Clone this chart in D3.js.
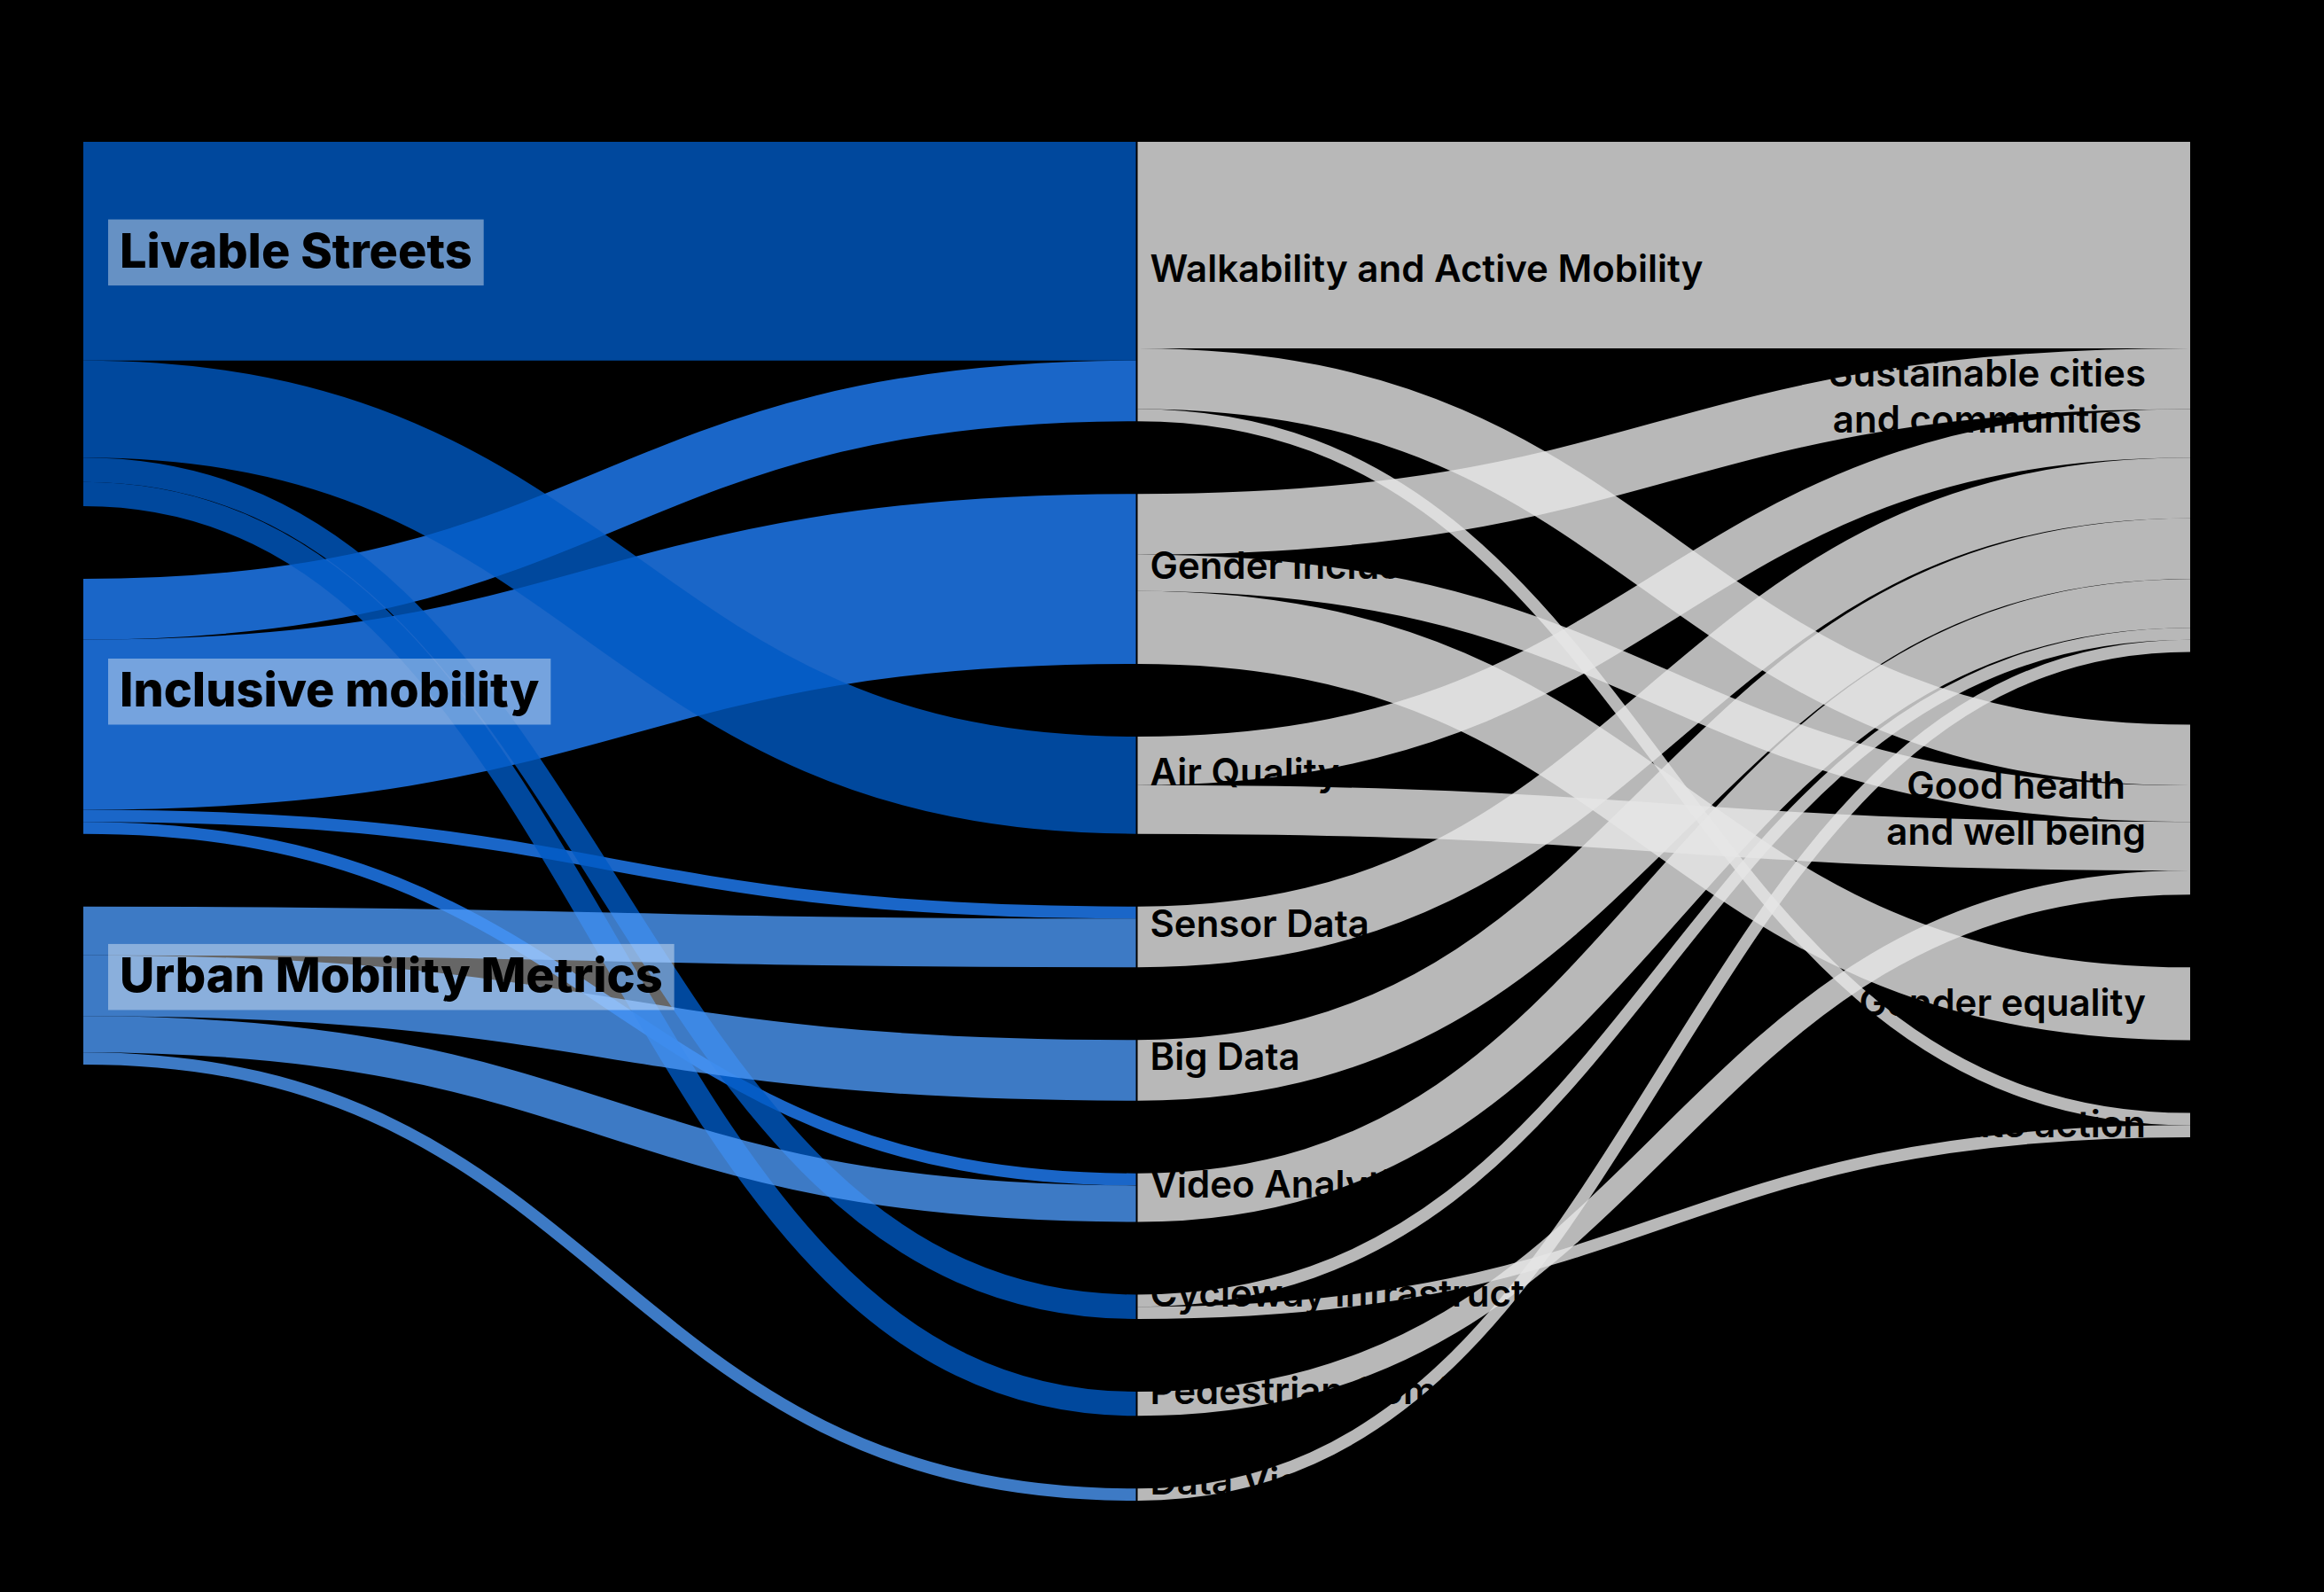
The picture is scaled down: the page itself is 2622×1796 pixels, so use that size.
<!DOCTYPE html>
<html>
<head>
<meta charset="utf-8">
<script src="https://cdn.jsdelivr.net/npm/d3@7"></script>
<style>
  html, body { margin: 0; padding: 0; background: #000; }
  svg { display: block; }
  text { font-family: Inter, "Noto Sans", sans-serif; fill: #000; }
</style>
</head>
<body>
<div id="chart"></div>
<script>
// three columns: themes -> topics -> goals
const themes = ["Livable Streets", "Inclusive mobility", "Urban Mobility Metrics"];
const topics = [
  "Walkability and Active Mobility", "Gender Inclusion", "Air Quality", "Sensor Data",
  "Big Data", "Video Analytics", "Cycleway Infrastructure", "Pedestrian Comfort", "Data Visualization"
];
const goals = ["Sustainable cities\nand communities", "Good health\nand well being", "Gender equality", "Climate action"];

// theme -> topic (listed in drawing order)
const themeTopicLinks = [
  ["Inclusive mobility", "Walkability and Active Mobility", 5],
  ["Inclusive mobility", "Gender Inclusion", 14],
  ["Inclusive mobility", "Sensor Data", 1],
  ["Inclusive mobility", "Video Analytics", 1],
  ["Livable Streets", "Walkability and Active Mobility", 18],
  ["Livable Streets", "Air Quality", 8],
  ["Livable Streets", "Cycleway Infrastructure", 2],
  ["Livable Streets", "Pedestrian Comfort", 2],
  ["Urban Mobility Metrics", "Sensor Data", 4],
  ["Urban Mobility Metrics", "Big Data", 5],
  ["Urban Mobility Metrics", "Video Analytics", 3],
  ["Urban Mobility Metrics", "Data Visualization", 1]
];

// topic -> goal
const topicGoalLinks = [
  ["Walkability and Active Mobility", "Sustainable cities\nand communities", 17],
  ["Walkability and Active Mobility", "Good health\nand well being", 5],
  ["Walkability and Active Mobility", "Climate action", 1],
  ["Gender Inclusion", "Sustainable cities\nand communities", 5],
  ["Gender Inclusion", "Good health\nand well being", 3],
  ["Gender Inclusion", "Gender equality", 6],
  ["Air Quality", "Sustainable cities\nand communities", 4],
  ["Air Quality", "Good health\nand well being", 4],
  ["Sensor Data", "Sustainable cities\nand communities", 5],
  ["Big Data", "Sustainable cities\nand communities", 5],
  ["Video Analytics", "Sustainable cities\nand communities", 4],
  ["Cycleway Infrastructure", "Sustainable cities\nand communities", 1],
  ["Cycleway Infrastructure", "Climate action", 1],
  ["Pedestrian Comfort", "Good health\nand well being", 2],
  ["Data Visualization", "Sustainable cities\nand communities", 1]
];

const themeColors = ["#005ac4", "#2080fa", "#4c98f6"];
const goalLinkColor = "#e6e6e6";

const width = 2622, height = 1796;
const margin = {top: 160, right: 150, bottom: 103, left: 93};
const nodePadding = 82, nodeWidth = 2;

// ---- layout ----
const columns = [themes, topics, goals];
const nodeByName = new Map();
columns.forEach((names, c) => names.forEach(name => {
  nodeByName.set(name, {name, column: c, sourceLinks: [], targetLinks: []});
}));
const nodes = Array.from(nodeByName.values());

const links = themeTopicLinks.concat(topicGoalLinks).map(([s, t, v]) => {
  const l = {source: nodeByName.get(s), target: nodeByName.get(t), value: v};
  l.source.sourceLinks.push(l);
  l.target.targetLinks.push(l);
  return l;
});
nodes.forEach(n => {
  n.value = Math.max(d3.sum(n.sourceLinks, l => l.value), d3.sum(n.targetLinks, l => l.value));
});

const x = d3.scalePoint()
  .domain(d3.range(columns.length))
  .range([margin.left, width - margin.right]);

// the tallest column sets the value -> pixel scale
const innerHeight = height - margin.top - margin.bottom;
const fit = columns.map(names => ({
  total: d3.sum(names, n => nodeByName.get(n).value),
  space: innerHeight - (names.length - 1) * nodePadding
}));
const tightest = fit.reduce((a, b) => (b.space / b.total < a.space / a.total ? b : a));
const h = d3.scaleLinear().domain([0, tightest.total]).range([0, tightest.space]);

columns.forEach((names, c) => {
  let y = margin.top;
  names.forEach(name => {
    const n = nodeByName.get(name);
    n.x0 = x(c) - nodeWidth / 2;
    n.x1 = x(c) + nodeWidth / 2;
    n.y0 = y;
    n.y1 = y + h(n.value);
    y = n.y1 + nodePadding;
  });
});

nodes.forEach(n => {
  n.sourceLinks.sort((a, b) => a.target.y0 - b.target.y0);
  n.targetLinks.sort((a, b) => a.source.y0 - b.source.y0);
  let y = n.y0;
  n.sourceLinks.forEach(l => { l.width = h(l.value); l.y0 = y + l.width / 2; y += l.width; });
  y = n.y0;
  n.targetLinks.forEach(l => { l.y1 = y + h(l.value) / 2; y += h(l.value); });
});

// ---- drawing ----
const svg = d3.select("#chart").append("svg")
  .attr("width", width)
  .attr("height", height)
  .style("background", "#000");

const color = d3.scaleOrdinal().domain(themes).range(themeColors);
const linkPath = d3.linkHorizontal();

svg.append("g")
  .attr("fill", "none")
  .selectAll("path")
  .data(links)
  .join("path")
  .attr("d", d => linkPath({source: [d.source.x1, d.y0], target: [d.target.x0, d.y1]}))
  .attr("stroke", d => d.source.column === 0 ? color(d.source.name) : goalLinkColor)
  .attr("stroke-opacity", 0.8)
  .attr("stroke-width", d => d.width);

// topic labels
svg.append("g")
  .selectAll("text")
  .data(topics.map(n => nodeByName.get(n)))
  .join("text")
  .attr("x", d => d.x1 + 14)
  .attr("y", d => (d.y0 + d.y1) / 2)
  .attr("font-size", 42)
  .attr("font-weight", 600)
  .text(d => d.name);

// theme labels with a light box behind
const labelNudge = {"Livable Streets": -64, "Urban Mobility Metrics": 7};
const themeFont = 54;
const themeLabel = svg.append("g")
  .selectAll("g")
  .data(themes.map(n => nodeByName.get(n)))
  .join("g");

themeLabel.each(function(d) {
  const g = d3.select(this);
  const base = (d.y0 + d.y1) / 2 + (labelNudge[d.name] || 0);
  const box = g.append("rect");
  const t = g.append("text")
    .attr("x", d.x1 + 41)
    .attr("y", base)
    .attr("font-size", themeFont)
    .attr("font-weight", 800)
    .text(d.name);
  const w = t.node().getComputedTextLength();
  box.attr("x", d.x1 + 28)
    .attr("y", base - themeFont)
    .attr("width", w + 26)
    .attr("height", themeFont * 1.38)
    .attr("fill", "#fff")
    .attr("fill-opacity", 0.4);
});

// goal labels, lines centred inside a right-aligned block
const goalFont = 42, goalLine = 52;
svg.append("g")
  .selectAll("g")
  .data(goals.map(n => nodeByName.get(n)))
  .join("g")
  .each(function(d) {
    const g = d3.select(this);
    const lines = d.name.split("\n");
    const cy = (d.y0 + d.y1) / 2;
    const texts = lines.map((line, i) => g.append("text")
      .attr("y", cy + (i - (lines.length - 1) / 2) * goalLine + goalFont * 0.33)
      .attr("font-size", goalFont)
      .attr("font-weight", 600)
      .attr("text-anchor", "middle")
      .text(line));
    const blockW = d3.max(texts, t => t.node().getComputedTextLength());
    const right = d.x0 - 50;
    texts.forEach(t => t.attr("x", right - blockW / 2));
  });
</script>
</body>
</html>
